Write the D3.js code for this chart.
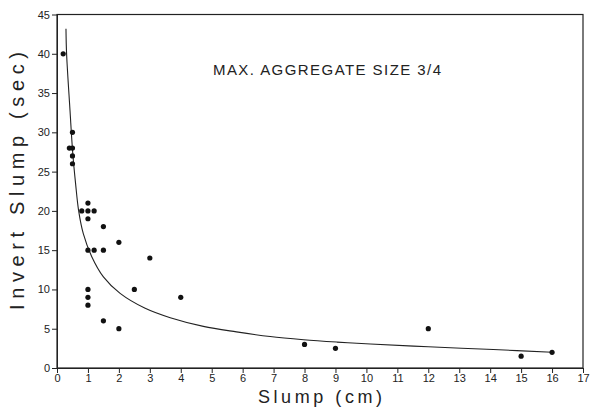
<!DOCTYPE html>
<html>
<head>
<meta charset="utf-8">
<script src="https://cdn.jsdelivr.net/npm/d3@7"></script>
<style>
  body { margin: 0; background: #fff; }
  text { font-family: "Liberation Sans", Arial, sans-serif; fill: #222; }
</style>
</head>
<body>
<svg id="chart" width="591" height="410"></svg>
<script>
// measured points: slump (cm) vs invert slump (sec)
const slump  = [0.2, 0.5, 0.4, 0.5, 0.5, 0.5, 0.8, 1, 1, 1.2, 1, 1.5, 2, 1, 1.2, 1.5, 3, 2.5, 1, 1, 1, 4, 1.5, 2, 8, 9, 12, 15, 16]
const invert = [40, 30, 28, 28, 27, 26, 20, 21, 20, 20, 19, 18, 16, 15, 15, 15, 14, 10, 10, 9, 8, 9, 6, 5, 3, 2.5, 5, 1.5, 2]

// fitted curve
const curveX = [0.29, 0.31, 0.42, 0.51, 0.6, 0.7, 0.85, 1.12, 1.5, 2.04, 2.85, 3.66, 4.73, 5.8, 6.89, 7.97, 9.05, 10.13, 12, 14.1, 16]
const curveY = [43.2, 40, 32.8, 27.3, 23.5, 20, 17.1, 14.2, 11.6, 9.5, 7.6, 6.4, 5.3, 4.6, 4.0, 3.6, 3.3, 3.05, 2.7, 2.35, 2.0]

const xTicks = d3.range(0, 18)
const yTicks = d3.range(0, 50, 5)

const svg = d3.select("#chart")
const plotL = 57, plotR = 583, plotT = 14.5, plotB = 368

const x = d3.scaleLinear().domain([0, 17]).range([plotL, plotR])
const y = d3.scaleLinear().domain([0, 45]).range([plotB, plotT])

// frame
svg.append("rect")
    .attr("x", plotL).attr("y", plotT)
    .attr("width", plotR - plotL).attr("height", plotB - plotT)
    .attr("fill", "none").attr("stroke", "#222").attr("stroke-width", 1.2)

const xAxis = svg.append("g")
    .attr("transform", `translate(0,${plotB})`)
    .call(d3.axisBottom(x).tickValues(xTicks).tickSize(5).tickSizeOuter(0).tickPadding(1))
xAxis.select(".domain").attr("stroke", "#222")
xAxis.selectAll("line").attr("stroke", "#222")
xAxis.selectAll("text").style("font-size", "11px").attr("fill", "#222")

const yAxis = svg.append("g")
    .attr("transform", `translate(${plotL},0)`)
    .call(d3.axisLeft(y).tickValues(yTicks).tickSize(5).tickSizeOuter(0).tickPadding(2))
yAxis.select(".domain").attr("stroke", "#222")
yAxis.selectAll("line").attr("stroke", "#222")
yAxis.selectAll("text").style("font-size", "11px").attr("fill", "#222")

// fitted curve
const line = d3.line()
    .x(d => x(d[0]))
    .y(d => y(d[1]))
    .curve(d3.curveCatmullRom.alpha(0.5))

svg.append("path")
    .datum(d3.zip(curveX, curveY))
    .attr("d", line)
    .attr("fill", "none")
    .attr("stroke", "#222")
    .attr("stroke-width", 1.1)

// points
svg.append("g")
    .selectAll("circle")
    .data(d3.zip(slump, invert))
    .join("circle")
    .attr("cx", d => x(d[0]))
    .attr("cy", d => y(d[1]))
    .attr("r", 2.6)
    .attr("fill", "#111")

// labels
svg.append("text")
    .attr("x", 213).attr("y", 75)
    .attr("textLength", 228).attr("lengthAdjust", "spacing")
    .style("font-size", "15px")
    .text("MAX. AGGREGATE SIZE 3/4")

svg.append("text")
    .attr("x", 320).attr("y", 403)
    .attr("text-anchor", "middle")
    .attr("textLength", 124).attr("lengthAdjust", "spacing")
    .style("font-size", "18px")
    .text("Slump (cm)")

svg.append("text")
    .attr("transform", "translate(24,181) rotate(-90)")
    .attr("text-anchor", "middle")
    .attr("textLength", 258).attr("lengthAdjust", "spacing")
    .style("font-size", "20px")
    .text("Invert Slump (sec)")
</script>
</body>
</html>
